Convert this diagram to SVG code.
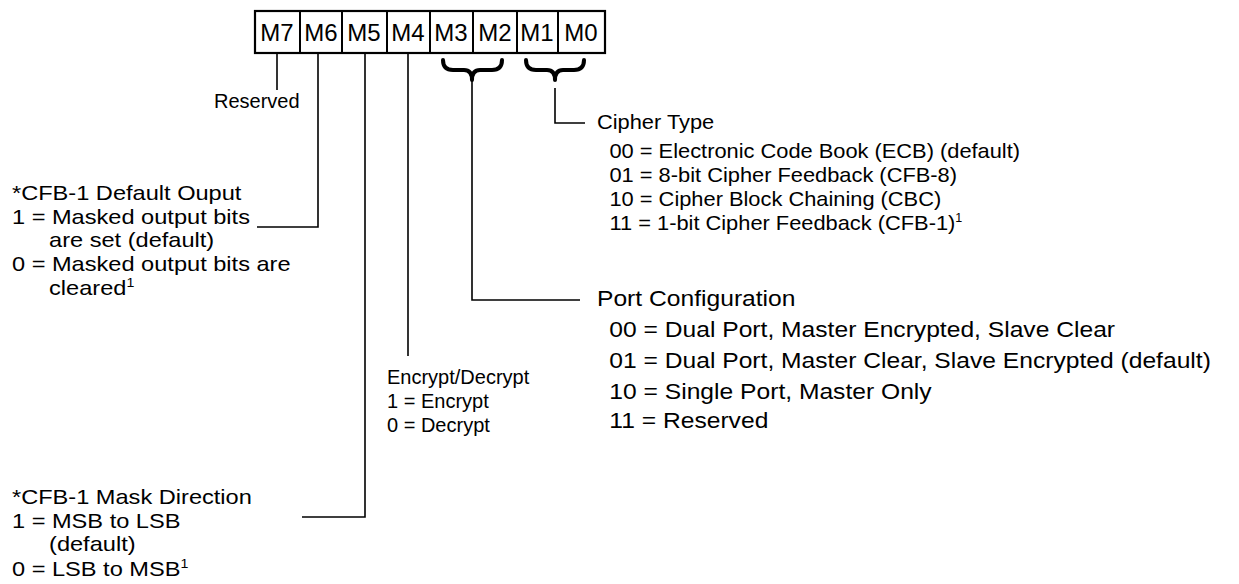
<svg xmlns="http://www.w3.org/2000/svg" width="1239" height="584" viewBox="0 0 1239 584">
<style>
text{font-family:"Liberation Sans",Arial,sans-serif;fill:#000}
.lbl{font-size:24px;text-anchor:middle}
.t{font-size:20px}
.c{font-size:21px}
.p{font-size:22px}
.sup{font-size:12px}
.ln{fill:none;stroke:#000;stroke-width:1.6}
.br{fill:none;stroke:#000;stroke-width:4;stroke-linecap:round;stroke-linejoin:round}
</style>
<rect width="1239" height="584" fill="#fff"/>
<g id="register">
<rect x="255" y="11" width="350" height="42" fill="#fff" stroke="#000" stroke-width="2.2"/>
<path d="M300 11V53M342 11V53M387 11V53M430 11V53M473 11V53M517 11V53M558 11V53" stroke="#000" stroke-width="2"/>
<text class="lbl" x="277" y="41">M7</text>
<text class="lbl" x="321" y="41">M6</text>
<text class="lbl" x="364" y="41">M5</text>
<text class="lbl" x="408" y="41">M4</text>
<text class="lbl" x="451" y="41">M3</text>
<text class="lbl" x="495" y="41">M2</text>
<text class="lbl" x="537" y="41">M1</text>
<text class="lbl" x="581" y="41">M0</text>
</g>
<g id="connectors">
<path class="ln" d="M277 53V90"/>
<path class="ln" d="M318 53V227H257"/>
<path class="ln" d="M365 53V517H302"/>
<path class="ln" d="M408 53V356"/>
<path class="br" d="M443 60Q443 70 453 70H464Q472 70 472 80Q472 70 480 70H492Q502 70 502 60"/>
<path class="ln" d="M472 80V300H580"/>
<path class="br" d="M526 60Q526 70 536 70H547Q555 70 555 80Q555 70 563 70H574Q584 70 584 60"/>
<path class="ln" d="M555 88V123H585"/>
</g>
<g id="reserved">
<text class="t" x="214" y="108">Reserved</text>
</g>
<g id="cipher-type" transform="translate(597 0) scale(1.04 1) translate(-597 0)">
<text class="c" x="597" y="129">Cipher Type</text>
<text class="c" x="609" y="158">00 = Electronic Code Book (ECB) (default)</text>
<text class="c" x="609" y="182">01 = 8-bit Cipher Feedback (CFB-8)</text>
<text class="c" x="609" y="206">10 = Cipher Block Chaining (CBC)</text>
<text class="c" x="609" y="230">11 = 1-bit Cipher Feedback (CFB-1)<tspan class="sup" dy="-8">1</tspan></text>
</g>
<g id="default-output" transform="translate(12 0) scale(1.18 1) translate(-12 0)">
<text class="t" x="12" y="200">*CFB-1 Default Ouput</text>
<text class="t" x="12" y="224">1 = Masked output bits</text>
<text class="t" x="43.4" y="247">are set (default)</text>
<text class="t" x="12" y="271">0 = Masked output bits are</text>
<text class="t" x="43.4" y="295">cleared<tspan class="sup" dy="-8">1</tspan></text>
</g>
<g id="port-config" transform="translate(597 0) scale(1.12 1) translate(-597 0)">
<text class="p" x="597" y="306">Port Configuration</text>
<text class="p" x="608" y="337">00 = Dual Port, Master Encrypted, Slave Clear</text>
<text class="p" x="608" y="368">01 = Dual Port, Master Clear, Slave Encrypted (default)</text>
<text class="p" x="608" y="399">10 = Single Port, Master Only</text>
<text class="p" x="608" y="428">11 = Reserved</text>
</g>
<g id="encrypt">
<text class="t" x="387" y="384">Encrypt/Decrypt</text>
<text class="t" x="387" y="408">1 = Encrypt</text>
<text class="t" x="387" y="432">0 = Decrypt</text>
</g>
<g id="mask-direction" transform="translate(12 0) scale(1.18 1) translate(-12 0)">
<text class="t" x="12" y="504">*CFB-1 Mask Direction</text>
<text class="t" x="12" y="528">1 = MSB to LSB</text>
<text class="t" x="43.4" y="551">(default)</text>
<text class="t" x="12" y="576">0 = LSB to MSB<tspan class="sup" dy="-8">1</tspan></text>
</g>
</svg>
